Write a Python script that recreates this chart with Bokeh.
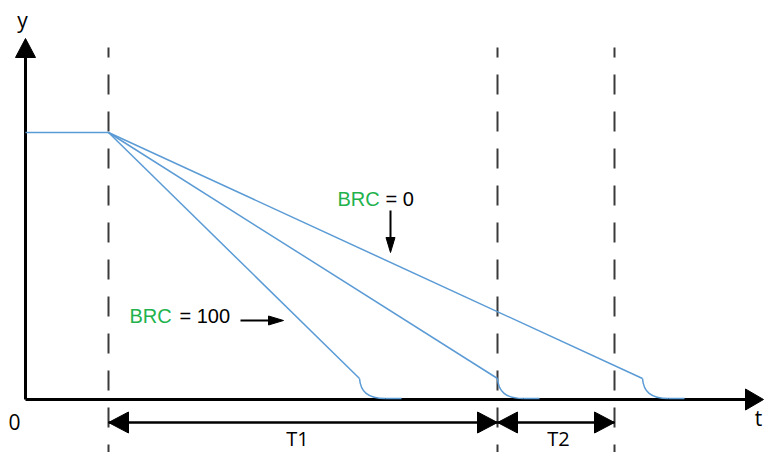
from bokeh.plotting import figure
from bokeh.models import Range1d, ColumnDataSource
from bokeh.core.properties import value
from bokeh.embed import file_html
from bokeh.resources import INLINE

# ---------------- data (diagram units) ----------------
t_brake = 83                      # time at which braking starts
t_stop = [334, 472, 617]          # time where each ramp reaches the knee (BRC=100 ... BRC=0)
y_hold = 267                      # output level before braking
y_knee = 21                       # level at which the final rounding starts
y_floor = 1                       # final level (≈ 0)
tail_len = 42                     # length of the rounded tail along t
t_marks = [83, 472, 589]          # dashed vertical markers
t_axis_max = 738
y_axis_max = 361
span_starts = [83, 472]
span_ends = [472, 589]
span_y = -23
span_labels = ["T1", "T2"]
span_label_t = [272, 533]
brc_words = ["BRC", "BRC"]
brc_values = ["= 100", "= 0"]

BLUE = "#5B9BD5"
GREEN = "#22B24C"
DASH = "#3a3a3a"

p = figure(width=766, height=452, output_backend="svg", toolbar_location=None,
           x_axis_type=None, y_axis_type=None, min_border=0,
           x_range=Range1d(-25, 741), y_range=Range1d(-53, 399))
p.outline_line_color = None
p.grid.visible = False
p.background_fill_color = "white"


def head(tip_x, tip_y, dx, dy, length, half_w):
    bx, by = tip_x - dx * length, tip_y - dy * length
    nx, ny = -dy, dx
    return [tip_x, bx + nx * half_w, bx - nx * half_w], [tip_y, by + ny * half_w, by - ny * half_w]


heads_x, heads_y = [], []

# dashed markers
p.segment(x0=t_marks, y0=[352] * len(t_marks), x1=t_marks, y1=[-60] * len(t_marks),
          line_color=DASH, line_width=2, line_dash="20 17", line_dash_offset=10)

# axes
p.segment(x0=[0, 0], y0=[0, 0], x1=[t_axis_max - 16, 0], y1=[0, y_axis_max - 17],
          line_color="black", line_width=3)
hx, hy = head(t_axis_max, 0, 1, 0, 18, 10.5); heads_x.append(hx); heads_y.append(hy)
hx, hy = head(0, y_axis_max, 0, 1, 19, 10); heads_x.append(hx); heads_y.append(hy)

# span arrows T1, T2
p.segment(x0=span_starts, y0=[span_y] * 2, x1=span_ends, y1=[span_y] * 2,
          line_color="black", line_width=2.5)
for s, e in zip(span_starts, span_ends):
    hx, hy = head(s, span_y, -1, 0, 20, 10.5); heads_x.append(hx); heads_y.append(hy)
    hx, hy = head(e, span_y, 1, 0, 20, 10.5); heads_x.append(hx); heads_y.append(hy)

# BRC pointer arrows
p.segment(x0=[215, 365], y0=[79, 189], x1=[250, 365], y1=[79, 155],
          line_color="black", line_width=2)
hx, hy = head(258, 79, 1, 0, 15, 4.5); heads_x.append(hx); heads_y.append(hy)
hx, hy = head(365, 147, 0, -1, 15, 4.5); heads_x.append(hx); heads_y.append(hy)

p.patches(xs=heads_x, ys=heads_y, fill_color="black", line_color="black", line_width=1)

# signal curves
p.line(x=[0, t_brake], y=[y_hold, y_hold], line_color=BLUE, line_width=1.5)
for ts in t_stop:
    p.line(x=[t_brake, ts], y=[y_hold, y_knee], line_color=BLUE, line_width=1.5)
knee = ColumnDataSource(dict(
    x0=t_stop, y0=[y_knee] * 3,
    x1=[t + 26 for t in t_stop], y1=[y_floor] * 3,
    cx0=[t + 1 for t in t_stop], cy0=[8] * 3,
    cx1=[t + 8 for t in t_stop], cy1=[y_floor] * 3,
))
p.bezier(x0="x0", y0="y0", x1="x1", y1="y1", cx0="cx0", cy0="cy0", cx1="cx1", cy1="cy1",
         source=knee, line_color=BLUE, line_width=1.5)
p.segment(x0=[t + 26 for t in t_stop], y0=[y_floor] * 3,
          x1=[t + tail_len for t in t_stop], y1=[y_floor] * 3, line_color=BLUE, line_width=1.5)

# texts
FONT_A = value("Open Sans")
FONT_B = value("Liberation Sans")
p.text(x=span_label_t, y=[-39, -39], text=span_labels, text_font=FONT_A,
       text_font_size="20px", text_align="center", text_baseline="alphabetic", text_color="black")
p.text(x=[-11], y=[-22], text=["0"], text_font=FONT_A, text_font_size="21px",
       text_align="center", text_baseline="alphabetic", text_color="black")
p.text(x=[-3], y=[380], text=["y"], text_font=FONT_A, text_font_size="21px",
       text_align="center", text_baseline="alphabetic", text_color="black")
p.text(x=[733], y=[-18], text=["t"], text_font=FONT_A, text_font_size="21px",
       text_align="center", text_baseline="alphabetic", text_color="black")

p.text(x=[104, 312], y=[84, 201], text=brc_words, text_font=FONT_B, text_font_size="20px",
       text_align="left", text_baseline="alphabetic", text_color=GREEN)
p.text(x=[154, 360], y=[84, 201], text=brc_values, text_font=FONT_B, text_font_size="20px",
       text_align="left", text_baseline="alphabetic", text_color="black")

open("out.html", "w").write(file_html(p, INLINE))
